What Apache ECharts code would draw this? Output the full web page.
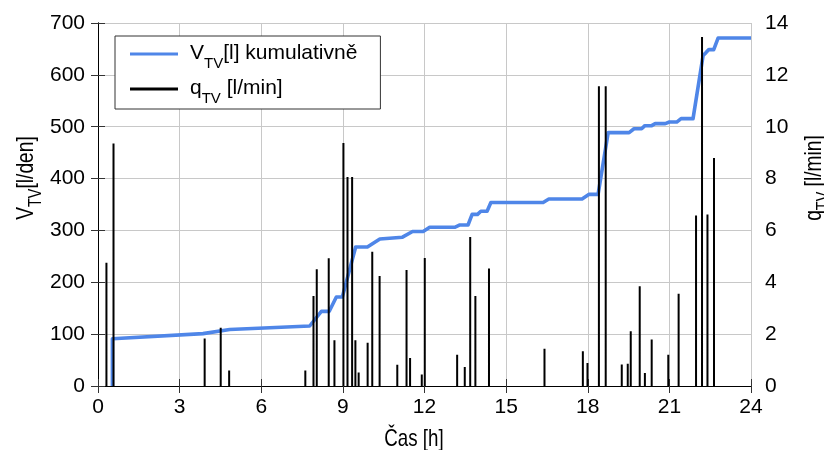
<!DOCTYPE html>
<html>
<head>
<meta charset="utf-8">
<script src="https://cdn.jsdelivr.net/npm/echarts@6/dist/echarts.min.js"></script>
<style>
  html, body { margin: 0; padding: 0; background: #fff; }
  #chart { width: 824px; height: 450px; }
</style>
</head>
<body>
<div id="chart"></div>
<script>
// Flow pulses q_TV [l/min]: time of each draw [h] and its peak flow
const qTimes = [0.31, 0.57, 3.92, 4.51, 4.82, 7.62, 7.92, 8.04, 8.48, 8.69,
  9.02, 9.17, 9.34, 9.46, 9.58, 9.91, 10.08, 10.35, 11.0, 11.34,
  11.47, 11.9, 12.01, 13.2, 13.48, 13.68, 13.87, 14.37, 16.41, 17.82,
  17.99, 18.41, 18.66, 19.25, 19.47, 19.58, 19.91, 20.1, 20.35, 20.96,
  21.34, 21.98, 22.2, 22.4, 22.64];
const qValues = [4.75, 9.35, 1.83, 2.25, 0.6, 0.6, 3.47, 4.5, 4.93, 1.76,
  9.37, 8.06, 8.06, 1.76, 0.52, 1.67, 5.18, 4.24, 0.82, 4.47,
  1.08, 0.44, 4.94, 1.21, 0.73, 5.75, 3.47, 4.53, 1.44, 1.34,
  0.89, 11.56, 11.56, 0.83, 0.86, 2.11, 3.85, 0.5, 1.79, 1.21,
  3.56, 6.58, 13.46, 6.61, 8.79];

// Cumulative volume V_TV [l] over the day
const vTimes = [0.53, 0.53, 3.86, 4.84, 7.78, 8.21, 8.5, 8.76, 8.98, 9.47,
  9.9, 10.36, 11.19, 11.56, 11.95, 12.19, 13.11, 13.3, 13.6, 13.75,
  13.95, 14.07, 14.3, 14.44, 16.36, 16.57, 17.79, 18.05, 18.38, 18.75,
  19.52, 19.7, 19.98, 20.1, 20.35, 20.48, 20.85, 21.0, 21.27, 21.43,
  21.87, 22.24, 22.33, 22.45, 22.63, 22.79, 24];
const vValues = [0, 91, 101, 109, 115.7, 144, 144, 171.6, 171.6, 268,
  268, 283.5, 287, 298, 298, 306, 306, 310.5, 310.5, 331,
  331, 337, 337, 354, 354, 360.6, 360.6, 369.6, 369.6, 488.6,
  488.6, 496, 496, 502, 502, 506, 506, 509, 509, 515.6,
  515.6, 637.6, 642, 648.7, 648.7, 671, 671];

// Axis ranges and tick steps
const xTicks = { min: 0, max: 24, interval: 3 };
const vTicks = { min: 0, max: 700, interval: 100 };
const qTicks = { min: 0, max: 14, interval: 2 };

const FONT = "'Liberation Sans', Arial, sans-serif";

// each pulse is a vertical stroke from zero to its peak, broken between pulses
const qSeriesData = [];
qTimes.forEach((t, i) => {
  qSeriesData.push([t, 0], [t, qValues[i]], [t, '-']);
});
const vSeriesData = vTimes.map((t, i) => [t, vValues[i]]);

const tickStyle = { show: true, inside: true, length: 7, lineStyle: { color: '#333', width: 1 } };
const lineStyleAxis = { show: true, lineStyle: { color: '#000', width: 1 } };
const labelStyle = { fontFamily: FONT, fontSize: 21, color: '#000' };

// main text + lowered subscript
function subRich(main, sub) {
  return {
    m: { fontFamily: FONT, fontSize: main, color: '#000', lineHeight: 22, verticalAlign: 'top' },
    s: { fontFamily: FONT, fontSize: sub, color: '#000', lineHeight: 14, padding: [13, 0, 0, 0], verticalAlign: 'top' }
  };
}

const chart = echarts.init(document.getElementById('chart'), null, { renderer: 'canvas' });

chart.setOption({
  animation: false,
  backgroundColor: '#fff',
  grid: { left: 98, right: 73, top: 23, bottom: 64, containLabel: false },
  legend: {
    left: 115,
    top: 36,
    orient: 'vertical',
    padding: [7, 23, 3, 15],
    itemGap: 7,
    itemWidth: 48,
    itemHeight: 3,
    backgroundColor: '#fff',
    borderColor: '#333',
    borderWidth: 1,
    borderRadius: 0,
    data: [{ name: 'V_TV', icon: 'rect' }, { name: 'q_TV', icon: 'rect' }],
    formatter: function (name) {
      return name === 'V_TV'
        ? '{g|}{m|V}{s|TV}{m|[l] kumulativně}'
        : '{g|}{m|q}{s|TV}{m| [l/min]}';
    },
    textStyle: {
      rich: Object.assign({ g: { width: 7 } }, subRich(21, 15))
    }
  },
  xAxis: [
    {
      type: 'value', position: 'bottom',
      min: xTicks.min, max: xTicks.max, interval: xTicks.interval,
      axisLine: lineStyleAxis, axisTick: tickStyle,
      axisLabel: Object.assign({ margin: 11 }, labelStyle),
      splitLine: { show: true, lineStyle: { color: '#c8c8c8', width: 1 } }
    },
    {
      type: 'value', position: 'top',
      min: xTicks.min, max: xTicks.max, interval: xTicks.interval,
      axisLine: lineStyleAxis, axisTick: tickStyle,
      axisLabel: { show: false }, splitLine: { show: false }
    }
  ],
  yAxis: [
    {
      type: 'value', position: 'left',
      min: vTicks.min, max: vTicks.max, interval: vTicks.interval,
      axisLine: lineStyleAxis, axisTick: tickStyle,
      axisLabel: Object.assign({ margin: 13 }, labelStyle),
      splitLine: { show: true, lineStyle: { color: '#c8c8c8', width: 1 } }
    },
    {
      type: 'value', position: 'right',
      min: qTicks.min, max: qTicks.max, interval: qTicks.interval,
      axisLine: lineStyleAxis, axisTick: tickStyle,
      axisLabel: Object.assign({ margin: 14 }, labelStyle),
      splitLine: { show: false }
    }
  ],
  graphic: [
    {
      type: 'text', x: 25.5, y: 178, rotation: Math.PI / 2, scaleX: 0.8,
      style: { text: '{m|V}{s|TV}{m|[l/den]}', rich: subRich(24, 18), align: 'center', verticalAlign: 'middle' }
    },
    {
      type: 'text', x: 813, y: 178, rotation: Math.PI / 2, scaleX: 0.8,
      style: { text: '{m|q}{s|TV}{m| [l/min]}', rich: subRich(24, 18), align: 'center', verticalAlign: 'middle' }
    },
    {
      type: 'text', x: 414, y: 439, scaleX: 0.78,
      style: { text: 'Čas [h]', fontFamily: FONT, fontSize: 24, fill: '#000', align: 'center', verticalAlign: 'middle' }
    }
  ],
  series: [
    {
      name: 'V_TV', type: 'line', xAxisIndex: 0, yAxisIndex: 0,
      data: vSeriesData, showSymbol: false, symbol: 'none',
      lineStyle: { color: '#4f86e8', width: 3.6, join: 'round' },
      itemStyle: { color: '#4f86e8' },
      z: 2
    },
    {
      name: 'q_TV', type: 'line', xAxisIndex: 0, yAxisIndex: 1,
      data: qSeriesData, showSymbol: false, symbol: 'none', connectNulls: false,
      lineStyle: { color: '#000', width: 2 },
      itemStyle: { color: '#000' },
      z: 3
    }
  ]
});
</script>
</body>
</html>
